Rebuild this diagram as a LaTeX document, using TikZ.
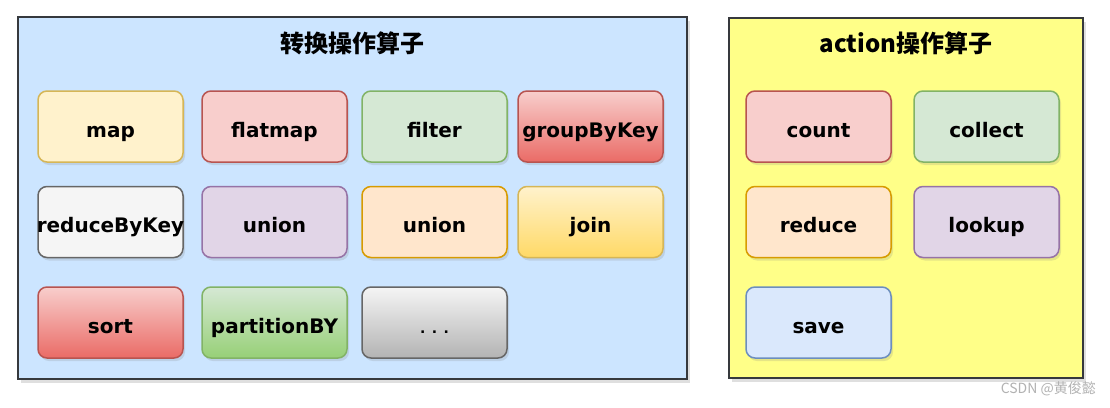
\documentclass[tikz,border=0pt]{standalone}
\usepackage{fontspec}
\setmainfont{DejaVu Sans}
\newfontfamily\cjk{Noto Sans CJK SC}
\usetikzlibrary{shadows}
\definecolor{panelA}{HTML}{CCE5FF}
\definecolor{panelB}{HTML}{FFFF88}
\definecolor{panelS}{HTML}{36393D}
\definecolor{yF}{HTML}{FFF2CC}\definecolor{yS}{HTML}{D6B656}\definecolor{yG}{HTML}{FFD966}
\definecolor{rF}{HTML}{F8CECC}\definecolor{rS}{HTML}{B85450}\definecolor{rG}{HTML}{EA6B66}
\definecolor{gF}{HTML}{D5E8D4}\definecolor{gS}{HTML}{82B366}\definecolor{gG}{HTML}{97D077}
\definecolor{wF}{HTML}{F5F5F5}\definecolor{wS}{HTML}{666666}\definecolor{wG}{HTML}{B3B3B3}
\definecolor{pF}{HTML}{E1D5E7}\definecolor{pS}{HTML}{9673A6}
\definecolor{oF}{HTML}{FFE6CC}\definecolor{oS}{HTML}{D79B00}
\definecolor{bF}{HTML}{DAE8FC}\definecolor{bS}{HTML}{6C8EBF}
\tikzset{
  x=1pt,y=-1pt,
  panel/.style={draw=panelS,line width=2pt,drop shadow={shadow xshift=3pt,shadow yshift=-4pt,opacity=0.25}},
  op/.style={draw,line width=1.5pt,rounded corners=9pt,minimum width=145pt,minimum height=71pt,inner sep=0pt,
    drop shadow={shadow xshift=2pt,shadow yshift=-3pt,opacity=0.2}},
  flat/.style 2 args={op,fill=#1,draw=#2},
  grad/.style n args={3}{op,top color=#1,bottom color=#2,draw=#3},
  lbl/.style={anchor=base,inner sep=0pt,text=black,font=\bfseries\fontsize{20}{23}\selectfont},
  ttl/.style={font=\cjk\bfseries\fontsize{24}{27}\selectfont,inner sep=0pt},
}
\newcommand{\opbox}[4]{\node[#1] (#2) at #3 {}; \node[lbl] (#2l) at ([yshift=-10.5pt]#2.center) {#4};}
\begin{document}
\begin{tikzpicture}
\useasboundingbox (0,0) rectangle (1110,407);
\fill[white] (0,0) rectangle (1110,407);
% panels
\path[panel,fill=panelA] (18,17) rectangle (687,379);
\path[panel,fill=panelB] (729,18) rectangle (1083,378);
\node[ttl] (t1) at (352,43) {转换操作算子};
\node[ttl] (t2) at (906,43) {\textbf{action}操作算子};
% left grid
\opbox{flat={yF}{yS}}{map}{(110.5,126.5)}{map}
\opbox{flat={rF}{rS}}{flatmap}{(274.5,126.5)}{flatmap}
\opbox{flat={gF}{gS}}{filter}{(434.5,126.5)}{filter}
\opbox{grad={rF}{rG}{rS}}{gbk}{(590.5,126.5)}{groupByKey}
\opbox{flat={wF}{wS}}{rbk}{(110.5,222)}{reduceByKey}
\opbox{flat={pF}{pS}}{unionA}{(274.5,222)}{union}
\opbox{flat={oF}{oS}}{unionB}{(434.5,222)}{union}
\opbox{grad={yF}{yG}{yS}}{join}{(590.5,222)}{join}
\opbox{grad={rF}{rG}{rS}}{sort}{(110.5,322.5)}{sort}
\opbox{grad={gF}{gG}{gS}}{part}{(274.5,322.5)}{partitionBY}
\opbox{grad={wF}{wG}{wS}}{dots}{(434.5,322.5)}{\fontsize{14}{16}\selectfont . . .}
% right grid
\opbox{flat={rF}{rS}}{count}{(818.5,126.5)}{count}
\opbox{flat={gF}{gS}}{collect}{(986.5,126.5)}{collect}
\opbox{flat={oF}{oS}}{reduce}{(818.5,222)}{reduce}
\opbox{flat={pF}{pS}}{lookup}{(986.5,222)}{lookup}
\opbox{flat={bF}{bS}}{save}{(818.5,322.5)}{save}
% watermark
\node[anchor=east,text=black!30,font=\cjk\fontsize{14}{16}\selectfont,inner sep=0pt] (wm) at (1096,389) {CSDN @黄俊懿};
\end{tikzpicture}
\end{document}
